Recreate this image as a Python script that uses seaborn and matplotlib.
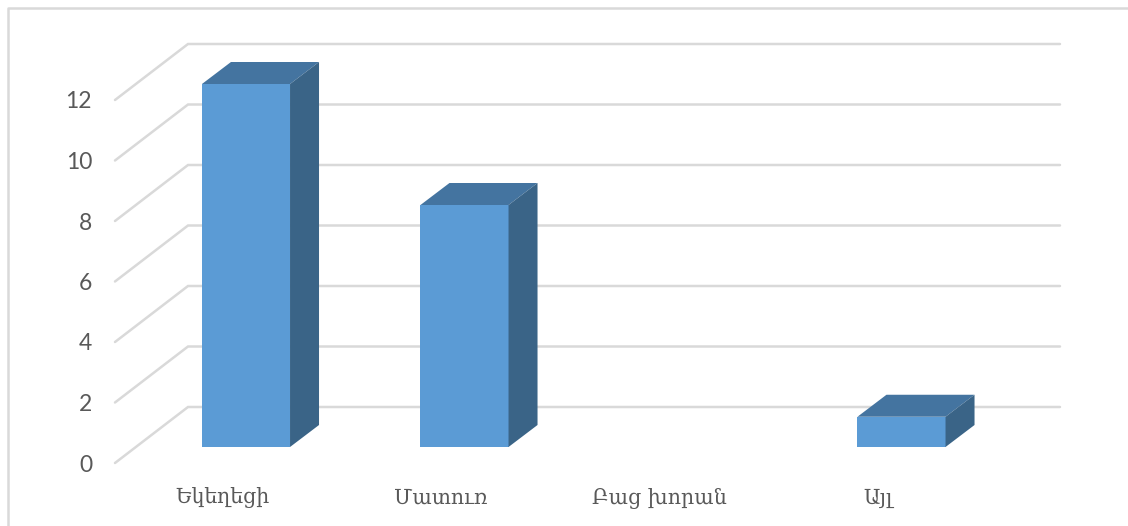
import matplotlib
matplotlib.use("Agg")
import matplotlib.pyplot as plt
from matplotlib.lines import Line2D
from matplotlib.patches import Polygon
import pandas as pd
import seaborn as sns

categories = ["Եկեղեցի", "Մատուռ", "Բաց խորան", "Այլ"]
values = [12, 8, 0, 1]
y_ticks = [0, 2, 4, 6, 8, 10, 12]

FRONT = "#5B9BD5"
TOP = "#4474A0"
SIDE = "#3A6487"
GRID = "#D9D9D9"
TEXT = "#595959"

# pixel layout of the picture, the oblique "3D" look is done by hand
W, H = 1128, 526
PX_X = 218.5      # pixels per category
PX_Y = 30.25      # pixels per value unit
X0, Y0 = 246, 447  # first bar centre, bar baseline
BAR_W = 0.403

sns.set_theme(style="white")
plt.rcParams["font.family"] = ["Lato", "DejaVu Sans"]

fig = plt.figure(figsize=(W / 100, H / 100), dpi=100)
ax = fig.add_axes([0, 0, 1, 1])

df = pd.DataFrame({"place": categories, "count": values})
sns.barplot(data=df, x="place", y="count", order=categories, color=FRONT,
            saturation=1, width=BAR_W, linewidth=0, ax=ax, zorder=2)

ax.set_xlim(-X0 / PX_X, (W - X0) / PX_X)
ax.set_ylim((Y0 - H) / PX_Y, Y0 / PX_Y)
ax.set(xlabel="", ylabel="")
ax.set_xticks([])
ax.set_yticks([])
sns.despine(ax=ax, left=True, bottom=True)

# gridlines: front floor edge, up the side wall, along the back wall
front_x, back_x, end_x = (115 - X0) / PX_X, (188 - X0) / PX_X, (1060 - X0) / PX_X
front_dy, back_dy = -16 / PX_Y, 40 / PX_Y
for v in y_ticks:
    ax.plot([front_x, back_x, end_x], [v + front_dy, v + back_dy, v + back_dy],
            color=GRID, lw=1.8, zorder=1, solid_joinstyle="miter")
    ax.text((92 - X0) / PX_X, v + front_dy - 2 / PX_Y, str(v), ha="right", va="center",
            fontsize=16.5, color=TEXT)

# depth faces of the bars
depth_x, depth_y = 29 / PX_X, 22 / PX_Y
half = BAR_W / 2
for i, v in enumerate(values):
    if v == 0:
        continue
    left, right = i - half, i + half
    ax.add_patch(Polygon([(left, v), (right, v), (right + depth_x, v + depth_y), (left + depth_x, v + depth_y)],
                         facecolor=TOP, edgecolor="none", zorder=3))
    ax.add_patch(Polygon([(right, 0), (right + depth_x, depth_y), (right + depth_x, v + depth_y), (right, v)],
                         facecolor=SIDE, edgecolor="none", zorder=3))

# category labels sit on the front edge of the floor, left of the bars
for i, name in enumerate(categories):
    ax.text(i - 24 / PX_X, -51 / PX_Y, name, ha="center", va="center",
            family=["DejaVu Serif", "DejaVu Sans"], fontsize=14.8, color=TEXT)

# chart frame, cut off by the crop on the right and at the bottom
frame_x, frame_y = 8 / W, 1 - 8 / H
fig.add_artist(Line2D([frame_x, frame_x, 1], [0, frame_y, frame_y], color=GRID, lw=1.8))

fig.savefig("out.png", dpi=100)
